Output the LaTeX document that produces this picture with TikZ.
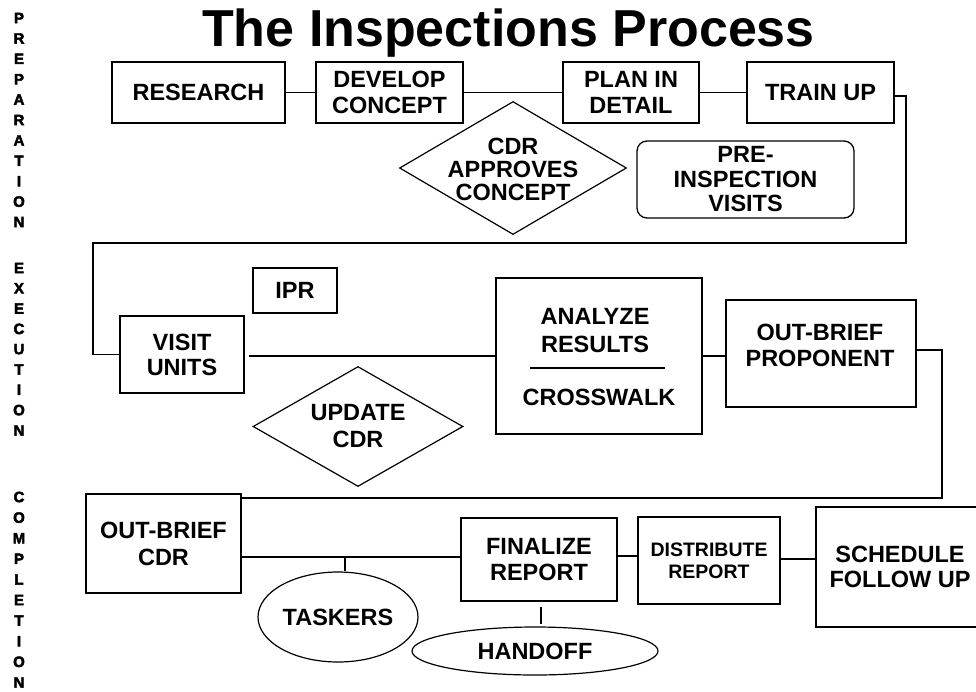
\documentclass[tikz,border=0pt]{standalone}
\usepackage{fontspec}
\setmainfont{Liberation Sans}
\newfontfamily\sidefont{Liberation Sans Bold}[FakeBold=3]
\usetikzlibrary{shapes.geometric,calc}
\begin{document}
\begin{tikzpicture}[x=1pt,y=-1pt,
  lbl/.style={font=\bfseries\fontsize{23.5}{26}\selectfont, align=center, inner sep=0pt},
  box/.style={draw, line width=1.3pt, inner sep=0pt, lbl},
  shp/.style={draw, line width=1.2pt, inner sep=0pt},
  conn/.style={line width=1.3pt},
  side/.style={font=\sidefont\fontsize{15}{15}\selectfont, inner sep=0pt}
]
\useasboundingbox (0,0) rectangle (976,691);
\fill[white] (0,0) rectangle (976,691);

% title
\node[font=\bfseries\fontsize{52}{52}\selectfont, anchor=base, inner sep=0pt] (title) at (508.5,46) {The Inspections Process};

% side labels
\foreach \l [count=\i] in {P,R,E,P,A,R,A,T,I,O,N}
  \node[side] (prep\i) at (19,{18+(\i-1)*20.4}) {\l};
\foreach \l [count=\i] in {E,X,E,C,U,T,I,O,N}
  \node[side] (exec\i) at (19,{268+(\i-1)*20.3}) {\l};
\foreach \l [count=\i] in {C,O,M,P,L,E,T,I,O,N}
  \node[side] (comp\i) at (19,{497+(\i-1)*20.6}) {\l};

% preparation row
\node[box, minimum width=173pt, minimum height=61pt] (research) at (198.5,92.5) {RESEARCH};
\node[box, minimum width=147pt, minimum height=61pt] (develop) at (389.5,92.5) {DEVELOP\\CONCEPT};
\node[box, minimum width=136pt, minimum height=61pt] (plan) at (631,92.5) {PLAN IN\\DETAIL};
\node[box, minimum width=147pt, minimum height=61pt] (train) at (820.5,92.5) {TRAIN UP};

\node[diamond, shp, minimum width=227pt, minimum height=133pt] (cdr) at (513,168) {};
\node[lbl, font=\bfseries\fontsize{23.5}{23}\selectfont] (cdrt) at (513,169) {CDR\\APPROVES\\CONCEPT};

\node[box, rounded corners=10pt, minimum width=217pt, minimum height=77pt,
      font=\bfseries\fontsize{23.5}{24.5}\selectfont] (pre) at (745.5,179.5) {PRE-\\INSPECTION\\VISITS};

% execution row
\node[box, minimum width=84pt, minimum height=45pt] (ipr) at (295,290.5) {IPR};
\node[box, minimum width=124pt, minimum height=77pt, font=\bfseries\fontsize{23.5}{25}\selectfont] (visit) at (182,354.5) {VISIT\\UNITS};

\node[box, minimum width=206pt, minimum height=156pt] (analyze) at (599,356) {};
\node[lbl, font=\bfseries\fontsize{23.5}{28}\selectfont] (anr) at (595,331) {ANALYZE\\RESULTS};
\draw[conn] ($(analyze.center)+(-69,12)$) -- ++(135,0);
\node[lbl] (cross) at (599,397) {CROSSWALK};

\node[box, minimum width=190pt, minimum height=107pt] (prop) at (821,353.5) {};
\node[lbl] (propt) at (820,345) {OUT-BRIEF\\PROPONENT};

\node[diamond, shp, minimum width=210pt, minimum height=120pt] (upd) at (358,426.5) {};
\node[lbl, font=\bfseries\fontsize{23.5}{27}\selectfont] (updt) at (358,426.5) {UPDATE\\CDR};

% completion row
\node[box, minimum width=155pt, minimum height=99pt, font=\bfseries\fontsize{23.5}{27}\selectfont] (obcdr) at (163.5,543.5) {OUT-BRIEF\\CDR};
\node[box, minimum width=156pt, minimum height=83pt] (fin) at (539,559.5) {FINALIZE\\REPORT};
\node[box, minimum width=142pt, minimum height=87pt, font=\bfseries\fontsize{19.5}{22}\selectfont] (dist) at (709,560.5) {DISTRIBUTE\\REPORT};
\node[box, minimum width=168pt, minimum height=120pt, font=\bfseries\fontsize{23.5}{25}\selectfont] (sched) at (900,567) {SCHEDULE\\FOLLOW UP};

\node[ellipse, shp, lbl, minimum width=160pt, minimum height=90pt] (task) at (338,617) {TASKERS};
\node[ellipse, shp, lbl, minimum width=246pt, minimum height=48pt] (hand) at (535,651) {HANDOFF};

% connectors
\draw[conn] (research) -- (develop);
\draw[conn] (develop) -- (plan);
\draw[conn] (plan) -- (train);

\coordinate (c1) at (906,243);
\coordinate (c2) at (93,243);
\draw[conn] ([yshift=-3.5pt]train.east) -| (c1) -- (c2) |- (visit.west);

\draw[conn, shorten <=4pt] (visit.east |- analyze.west) -- (analyze.west);
\draw[conn] (analyze.east) -- (analyze.east -| prop.west);

\coordinate (c3) at (942,498);
\draw[conn] ([yshift=3.5pt]prop.east) -| (c3) -- (c3 -| obcdr.east);

\draw[conn] ([yshift=-13.5pt]obcdr.east) -- ([yshift=-13.5pt]obcdr.east -| fin.west);
\coordinate (tj) at (345,557);
\draw[conn] (tj) -- (tj |- task.north);

\draw[conn] ([yshift=3.5pt]fin.east) -- ([yshift=3.5pt]fin.east -| dist.west);
\draw[conn] ([yshift=1.5pt]dist.east) -- ([yshift=1.5pt]dist.east -| sched.west);

\coordinate (h1) at (541,607);
\draw[conn, shorten >=2pt] (h1) -- (h1 |- hand.north);
\end{tikzpicture}
\end{document}
